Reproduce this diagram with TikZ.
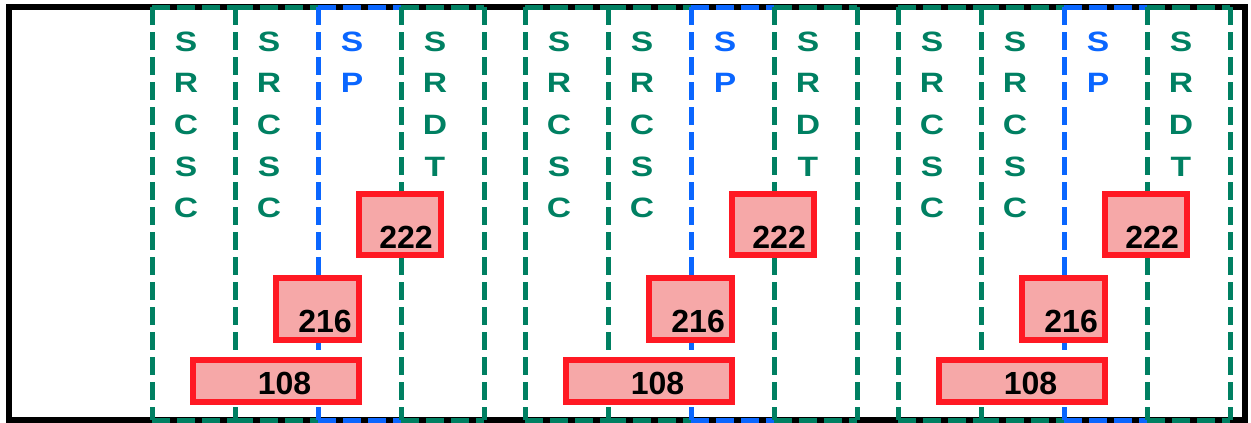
\documentclass[tikz,border=0pt]{standalone}
\usepackage{fontspec}
\setmainfont{Liberation Sans}
\definecolor{cgreen}{RGB}{0,128,98}
\definecolor{cblue}{RGB}{10,102,255}
\definecolor{cred}{RGB}{255,25,35}
\definecolor{cpink}{RGB}{246,168,168}
\begin{document}
\begin{tikzpicture}[x=1pt,y=-1pt,
  col/.style={line width=5pt, dash pattern=on 18pt off 7pt},
  ltr/.style={inner sep=0pt, anchor=base, font=\fontsize{28}{28}\selectfont\bfseries},
  rbox/.style={draw=cred, fill=cpink, line width=6.5pt, inner sep=0pt, outer sep=0pt},
  num/.style={inner sep=0pt, font=\fontsize{32}{32}\selectfont\bfseries}]
\useasboundingbox (0,0) rectangle (1251,423);
\fill[white] (0,0) rectangle (1251,423);
\draw[line width=6.5pt] (9,7) rectangle (1245,420);
\foreach \g in {0,1,2}{
  \pgfmathsetmacro\dx{373*\g}
  \begin{scope}[xshift=\dx pt]
    % top and bottom edges of the columns
    \draw[col,cgreen] (152,7) -- (235,7) (152,420) -- (235,420);
    \draw[col,cgreen] (235,7) -- (318,7) (235,420) -- (318,420);
    \draw[col,cblue]  (318,7) -- (401,7) (318,420) -- (401,420);
    \draw[col,cgreen] (401,7) -- (484,7) (401,420) -- (484,420);
    % column separators
    \draw[col,cgreen] (152,7) -- (152,420);
    \draw[col,cgreen] (235,7) -- (235,420);
    \draw[col,cblue]  (318,7) -- (318,420);
    \draw[col,cgreen] (401,7) -- (401,420);
    \draw[col,cgreen] (484,7) -- (484,420);
    \foreach \t [count=\i] in {S,R,C,S,C}{
      \node[ltr,text=cgreen] (a\g-\i) at (186,{51+41.7*(\i-1)}) {\scalebox{1.2}[1]{\t}};
      \node[ltr,text=cgreen] (b\g-\i) at (269,{51+41.7*(\i-1)}) {\scalebox{1.2}[1]{\t}};
    }
    \foreach \t [count=\i] in {S,P}{
      \node[ltr,text=cblue] (c\g-\i) at (352,{51+41.7*(\i-1)}) {\scalebox{1.2}[1]{\t}};
    }
    \foreach \t [count=\i] in {S,R,D,T}{
      \node[ltr,text=cgreen] (d\g-\i) at (435,{51+41.7*(\i-1)}) {\scalebox{1.2}[1]{\t}};
    }
    \node[rbox, minimum width=82pt, minimum height=61pt] (box222-\g) at (400,224.5) {};
    \node[num, anchor=base east] (n222-\g) at (433,248) {222};
    \node[rbox, minimum width=83pt, minimum height=62pt] (box216-\g) at (317.5,309) {};
    \node[num, anchor=base east] (n216-\g) at (352,332) {216};
    \node[rbox, minimum width=166pt, minimum height=42pt] (box108-\g) at (276,381) {};
    \node[num, anchor=base] (n108-\g) at (284.5,394) {108};
  \end{scope}
}
\end{tikzpicture}
\end{document}
